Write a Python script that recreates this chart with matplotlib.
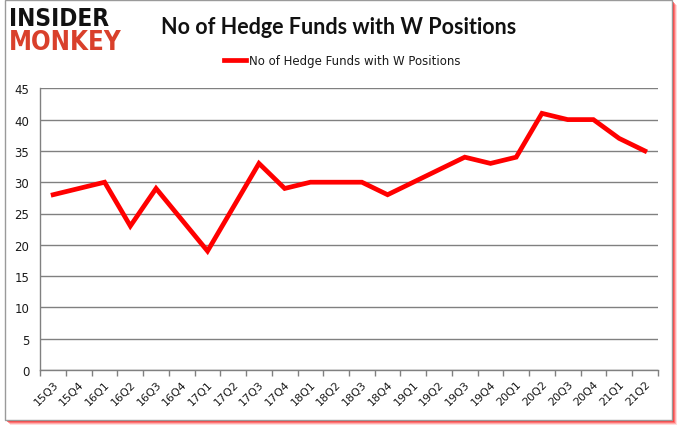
import matplotlib
matplotlib.use("Agg")
import matplotlib.pyplot as plt
import matplotlib.patches as mpatches
from matplotlib.lines import Line2D

# Данные
quarters = ["15Q3", "15Q4", "16Q1", "16Q2", "16Q3", "16Q4", "17Q1", "17Q2",
            "17Q3", "17Q4", "18Q1", "18Q2", "18Q3", "18Q4", "19Q1", "19Q2",
            "19Q3", "19Q4", "20Q1", "20Q2", "20Q3", "20Q4", "21Q1", "21Q2"]
funds = [28, 29, 30, 23, 29, 24, 19, 26, 33, 29, 30, 30, 30, 28, 30, 32,
         34, 33, 34, 41, 40, 40, 37, 35]
y_ticks = [0, 5, 10, 15, 20, 25, 30, 35, 40, 45]

SERIES = "No of Hedge Funds with W Positions"
COL_LINE = "#ff0000"
COL_GRID = "#808080"
COL_TEXT = "#1a1a1a"
COL_LOGO = "#d9402b"

W, H = 678, 431
fig = plt.figure(figsize=(W / 100, H / 100), dpi=100)
fig.patch.set_facecolor("white")

# Рамка с тонкой красной тенью (несколько слоёв для размытия)
for off, a in [(5, 0.15), (4, 0.25), (3, 0.4), (2, 0.6)]:
    fig.patches.append(mpatches.Rectangle(((5 + off) / W, (10 - off) / H), 667 / W, 420 / H,
                                          transform=fig.transFigure,
                                          facecolor="#ff2020", edgecolor="none",
                                          alpha=a, zorder=0))
fig.patches.append(mpatches.Rectangle((5 / W, 10 / H), 667 / W, 420 / H,
                                      transform=fig.transFigure,
                                      facecolor="white", edgecolor="#9a9a9a",
                                      linewidth=1, zorder=1))

ax = fig.add_axes([40.3 / W, 1 - 371 / H, (657.7 - 40.3) / W, (371 - 89.3) / H])
ax.set_facecolor("white")
ax.set_zorder(2)

x = list(range(len(quarters)))
ax.plot(x, funds, color=COL_LINE, linewidth=3.4, solid_joinstyle="miter", zorder=3)

ax.set_xlim(-0.5, len(quarters) - 0.5)
ax.set_ylim(0, 45)
ax.set_yticks(y_ticks)
ax.set_yticklabels([str(v) for v in y_ticks], fontsize=8.5, color=COL_TEXT)
ax.tick_params(axis="y", length=0, pad=8)
ax.grid(True, axis="y", color=COL_GRID, linewidth=1)
ax.set_axisbelow(True)

# Подписи категорий по центру, засечки между категориями
ax.set_xticks(x)
ax.set_xticklabels(quarters, rotation=45, ha="right", rotation_mode="anchor",
                   fontsize=8, color=COL_TEXT)
ax.tick_params(axis="x", length=0, pad=6)
ax.set_xticks([i - 0.5 for i in range(len(quarters) + 1)], minor=True)
ax.tick_params(axis="x", which="minor", length=4, color=COL_GRID, width=1)

for side in ("top", "right"):
    ax.spines[side].set_visible(False)
for side in ("left", "bottom"):
    ax.spines[side].set_color(COL_GRID)
    ax.spines[side].set_linewidth(1)

# Заголовок и легенда
fig.text(339 / W, 1 - 28 / H, SERIES, ha="center", va="center",
         fontsize=15.5, fontweight="bold", family="Lato", color="#111111")
handle = Line2D([], [], color=COL_LINE, linewidth=3.4)
fig.legend([handle], [SERIES], loc="center", bbox_to_anchor=(342 / W, 1 - 62 / H),
           frameon=False, fontsize=8.5, handlelength=1.9, handletextpad=0.2,
           labelcolor=COL_TEXT)

# Логотип
fig.text(9 / W, 1 - 19 / H, "INSIDER", ha="left", va="center", fontsize=17.5,
         fontweight="heavy", fontstretch="condensed", color="#111111",
         family="DejaVu Sans")
fig.text(9 / W, 1 - 43 / H, "MONKEY", ha="left", va="center", fontsize=18.5,
         fontweight="heavy", fontstretch="condensed", color=COL_LOGO,
         family="DejaVu Sans")

fig.savefig("out.png", dpi=100, facecolor="white")
